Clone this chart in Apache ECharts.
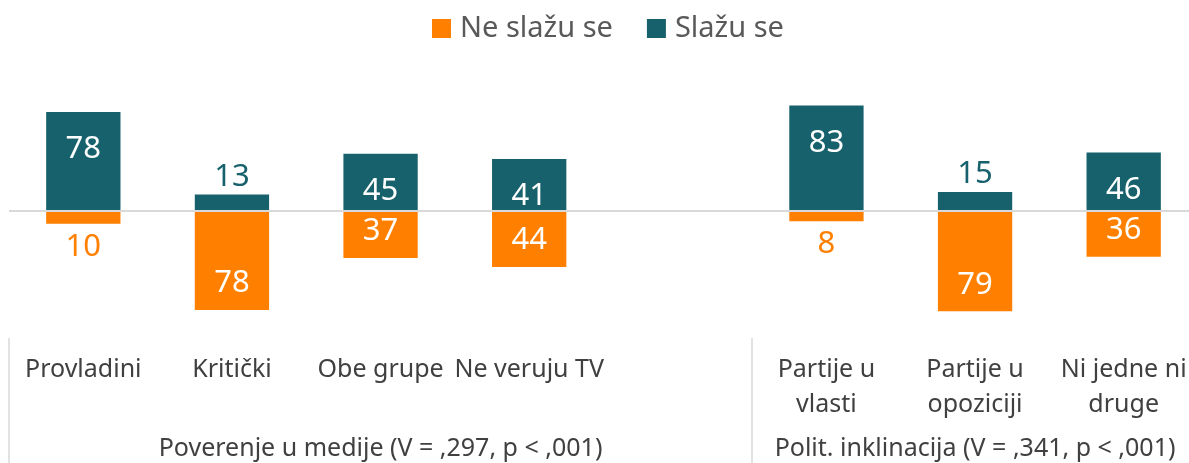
<!DOCTYPE html>
<html>
<head>
<meta charset="utf-8">
<script src="https://cdn.jsdelivr.net/npm/echarts@6/dist/echarts.min.js"></script>
<style>
  html, body { margin: 0; padding: 0; background: #fff; }
  #chart { width: 1189px; height: 463px; }
</style>
</head>
<body>
<div id="chart"></div>
<script>
// kategorije (prazno mesto = razmak izmedju grupa)
const categories = ['Provladini', 'Kritički', 'Obe grupe', 'Ne veruju TV', '', 'Partije u\nvlasti', 'Partije u\nopoziciji', 'Ni jedne ni\ndruge']
const groupLabels = ['', '', 'Poverenje u medije (V = ,297, p < ,001)', '', '', '', 'Polit. inklinacija (V = ,341, p < ,001)', '']
const slazuSe = [78, 13, 45, 41, null, 83, 15, 46]
const neSlazuSe = [10, 78, 37, 44, null, 8, 79, 36]

const TEAL = '#17616c'
const ORANGE = '#ff8000'
const FONT = 'Noto Sans'

const chart = echarts.init(document.getElementById('chart'))

const tealData = slazuSe.map(v => {
  if (v === null) return null
  const small = v < 20
  return {
    value: v,
    label: {
      position: small ? 'top' : 'insideTop',
      distance: small ? 2 : 22,
      color: small ? TEAL : '#fff'
    }
  }
})

const orangeData = neSlazuSe.map(v => {
  if (v === null) return null
  const small = v < 20
  return {
    value: -v,
    label: {
      position: small ? 'bottom' : 'insideBottom',
      distance: small ? 8 : 11,
      color: small ? ORANGE : '#fff'
    }
  }
})

const option = {
  animation: false,
  textStyle: { fontFamily: FONT },
  legend: {
    data: ['Ne slažu se', 'Slažu se'],
    top: 9,
    left: 427,
    icon: 'rect',
    itemWidth: 19,
    itemHeight: 19,
    itemGap: 34,
    textStyle: {
      fontFamily: FONT,
      fontSize: 29,
      color: '#595959',
      padding: [0, 0, 0, 4]
    }
  },
  grid: {
    left: 9,
    top: 84,
    width: 1189,
    bottom: 125,
    outerBoundsMode: 'none',
    containLabel: false
  },
  xAxis: [
    {
      type: 'category',
      data: categories,
      position: 'bottom',
      axisLine: { show: false, onZero: false },
      axisTick: {
        show: true,
        length: 125,
        interval: (i) => i === 0 || i === 5,
        lineStyle: { color: '#d9d9d9', width: 1.5 }
      },
      axisLabel: {
        interval: 0,
        margin: 14,
        fontFamily: FONT,
        fontSize: 25,
        lineHeight: 35,
        color: '#404040'
      }
    },
    {
      type: 'category',
      data: groupLabels,
      position: 'bottom',
      axisLine: { show: false, onZero: false },
      axisTick: { show: false },
      axisLabel: {
        interval: 0,
        margin: 98,
        fontFamily: FONT,
        fontSize: 25,
        color: '#404040'
      }
    }
  ],
  yAxis: {
    type: 'value',
    min: -100,
    max: 100,
    show: false
  },
  series: [
    {
      name: 'Ne slažu se',
      type: 'bar',
      stack: 'ukupno',
      barWidth: '50%',
      data: orangeData,
      itemStyle: { color: ORANGE },
      label: {
        show: true,
        fontFamily: FONT,
        fontSize: 31,
        formatter: p => Math.abs(p.value)
      }
    },
    {
      name: 'Slažu se',
      type: 'bar',
      stack: 'ukupno',
      barWidth: '50%',
      data: tealData,
      itemStyle: { color: TEAL },
      label: {
        show: true,
        fontFamily: FONT,
        fontSize: 31
      },
      markLine: {
        silent: true,
        symbol: 'none',
        label: { show: false },
        lineStyle: { color: '#d9d9d9', width: 2, type: 'solid' },
        data: [{ yAxis: 0 }]
      }
    }
  ]
}

chart.setOption(option)
</script>
</body>
</html>
